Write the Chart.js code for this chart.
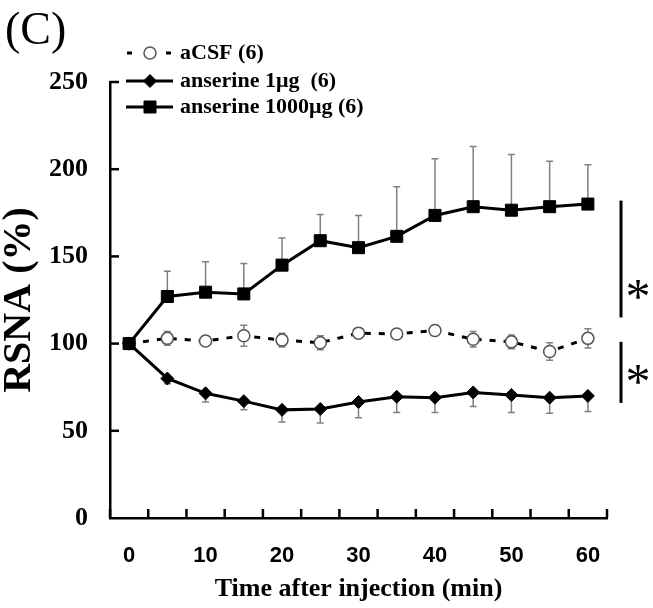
<!DOCTYPE html>
<html><head><meta charset="utf-8">
<script src="https://cdn.jsdelivr.net/npm/chart.js@4/dist/chart.umd.min.js"></script>
<style>html,body{margin:0;padding:0;background:#fff;}#wrap{position:relative;width:653px;height:608px;}</style>
</head><body><div id="wrap"><canvas id="c" width="653" height="608"></canvas></div>
<script>
// ---- data ----
const times = ['0','5','10','15','20','25','30','35','40','45','50','55','60'];
const yTicks = [0, 50, 100, 150, 200, 250];
const seriesNames = ['aCSF (6)', 'anserine 1\u03bcg  (6)', 'anserine 1000\u03bcg (6)'];
const acsf      = [100, 103, 101.5, 104.5, 102, 100.5, 106, 105.5, 107.5, 102.5, 101, 95.5, 103];
const acsfErr   = [0, 4, 3, 6, 4, 4, 3, 2.5, 3, 4.5, 4, 5, 5.5];
const ans1      = [100, 80, 71.5, 67, 62, 62.5, 66.5, 69.5, 69, 72, 70.5, 69, 70];
const ans1Err   = [0, 3, 5, 5, 7, 8, 9, 9, 8.5, 8, 10, 9, 9];
const ans1000   = [100, 127, 129.5, 128.5, 145, 159, 155, 161.5, 173.5, 178.5, 176.5, 178.5, 180];
const ans1000Err= [0, 14.5, 17.5, 17.5, 15.5, 15, 18.5, 28.5, 32.5, 34.5, 32, 26, 22.5];
// significance brackets: [top value, bottom value, asterisk value]
const sigBrackets = [[182, 115, 131], [101, 66, 82]];

const SERIF = '"Liberation Serif", "Times New Roman", serif';
const SANS = '"Liberation Sans", Arial, sans-serif';

// datasets: index 0 drawn on top
const datasets = [
  {label: seriesNames[2], data: ans1000, errors: ans1000Err, errDir: 'up',
   borderColor:'#000', backgroundColor:'#000', borderWidth:3,
   pointStyle:'rect', pointRadius:8.5, pointBorderColor:'#000', pointBackgroundColor:'#000', pointBorderWidth:1},
  {label: seriesNames[1], data: ans1, errors: ans1Err, errDir: 'down',
   borderColor:'#000', backgroundColor:'#000', borderWidth:3,
   pointStyle:'rectRot', pointRadius:6.5, pointBorderColor:'#000', pointBackgroundColor:'#000', pointBorderWidth:1},
  {label: seriesNames[0], data: acsf, errors: acsfErr, errDir: 'both',
   borderColor:'#000', backgroundColor:'#fff', borderWidth:3, borderDash:[6,8],
   pointStyle:'circle', pointRadius:6, pointBorderColor:'#555', pointBackgroundColor:'#fff', pointBorderWidth:1.5}
];

const errorBars = {
  id:'errorBars',
  beforeDatasetsDraw(chart){
    const {ctx, scales:{x, y}} = chart;
    ctx.save();
    ctx.strokeStyle = '#808080'; ctx.lineWidth = 1.5; ctx.setLineDash([]);
    chart.data.datasets.forEach(ds => {
      ds.data.forEach((v, i) => {
        const e = ds.errors[i]; if (!e) return;
        const px = x.getPixelForValue(i), p0 = y.getPixelForValue(v);
        const ends = [];
        if (ds.errDir !== 'down') ends.push(y.getPixelForValue(v + e));
        if (ds.errDir !== 'up') ends.push(y.getPixelForValue(v - e));
        ends.forEach(pe => {
          ctx.beginPath(); ctx.moveTo(px, p0); ctx.lineTo(px, pe);
          ctx.moveTo(px - 3.5, pe); ctx.lineTo(px + 3.5, pe); ctx.stroke();
        });
      });
    });
    ctx.restore();
  }
};

const decor = {
  id:'decor',
  afterDraw(chart){
    const {ctx, chartArea:ca, scales:{x, y}} = chart;
    ctx.save();
    ctx.strokeStyle = '#000'; ctx.lineWidth = 2.5; ctx.setLineDash([]);
    // inside ticks on y axis
    yTicks.forEach(v => { if (v === 0) return; const py = y.getPixelForValue(v);
      ctx.beginPath(); ctx.moveTo(ca.left, py); ctx.lineTo(ca.left + 9, py); ctx.stroke(); });
    // inside ticks on x axis at category boundaries
    for (let i = 0; i <= times.length; i++) {
      const px = x.getPixelForValue(i - 0.5);
      ctx.beginPath(); ctx.moveTo(px, ca.bottom); ctx.lineTo(px, ca.bottom - 9); ctx.stroke();
    }
    // significance brackets
    ctx.lineWidth = 3;
    ctx.fillStyle = '#000';
    ctx.font = '50px ' + SERIF; ctx.textAlign = 'center'; ctx.textBaseline = 'middle';
    sigBrackets.forEach(b => {
      const bx = ca.right + 14;
      ctx.beginPath(); ctx.moveTo(bx, y.getPixelForValue(b[0])); ctx.lineTo(bx, y.getPixelForValue(b[1])); ctx.stroke();
      ctx.fillText('*', bx + 17, y.getPixelForValue(b[2]) + 10);
    });
    // panel label
    ctx.font = '46px ' + SERIF; ctx.textAlign = 'left'; ctx.textBaseline = 'middle';
    ctx.fillText('(C)', 5, 32);
    // legend
    const rows = [53, 81, 107];
    const order = [2, 1, 0];
    ctx.font = 'bold 22px ' + SERIF;
    order.forEach((di, r) => {
      const ds = chart.data.datasets[di]; const ry = rows[r];
      ctx.strokeStyle = '#000'; ctx.lineWidth = 3;
      if (ds.borderDash) {
        ctx.beginPath(); ctx.moveTo(127, ry); ctx.lineTo(132, ry); ctx.moveTo(166, ry); ctx.lineTo(171, ry); ctx.stroke();
      } else {
        ctx.beginPath(); ctx.moveTo(126, ry); ctx.lineTo(173, ry); ctx.stroke();
      }
      ctx.beginPath();
      ctx.lineWidth = ds.pointBorderWidth; ctx.strokeStyle = ds.pointBorderColor; ctx.fillStyle = ds.pointBackgroundColor;
      Chart.helpers.drawPoint(ctx, {pointStyle: ds.pointStyle, radius: ds.pointRadius, rotation: 0, borderWidth: ds.pointBorderWidth}, 150, ry);
      ctx.fillStyle = '#000'; ctx.textAlign = 'left'; ctx.textBaseline = 'middle';
      ctx.fillText(ds.label, 180, ry);
    });
    ctx.restore();
  }
};

new Chart(document.getElementById('c'), {
  type: 'line',
  data: { labels: times, datasets },
  options: {
    responsive: false, animation: false, devicePixelRatio: 1,
    layout: { padding: { left: 0, top: 82, right: 46, bottom: 0 } },
    plugins: { legend: { display: false }, tooltip: { enabled: false } },
    elements: { line: { tension: 0 } },
    scales: {
      x: {
        type: 'category', offset: true,
        grid: { display: false, drawTicks: false },
        border: { display: true, color: '#000', width: 2.5 },
        ticks: { autoSkip: false, maxRotation: 0, padding: 25, color: '#000',
                 font: { family: SANS, size: 22, weight: 'bold' },
                 callback: (v, i) => (i % 2 === 0 ? times[i] : '') },
        title: { display: true, text: 'Time after injection (min)', color: '#000',
                 font: { family: SERIF, size: 26, weight: 'bold', lineHeight: 1.2 }, padding: { top: 0, bottom: 3 } },
        afterFit(s) { s.height = 90; }
      },
      y: {
        min: 0, max: 250,
        afterBuildTicks(s) { s.ticks = yTicks.map(v => ({ value: v })); },
        grid: { display: false, drawTicks: false },
        border: { display: true, color: '#000', width: 2.5 },
        ticks: { padding: 22, color: '#000', font: { family: SERIF, size: 26, weight: 'bold' } },
        title: { display: true, text: 'RSNA (%)', color: '#000',
                 font: { family: SERIF, size: 40, weight: 'bold', lineHeight: 1.0 }, padding: { top: 0, bottom: 0 } },
        afterFit(s) { s.width = 110; }
      }
    }
  },
  plugins: [errorBars, decor]
});
</script></body></html>
